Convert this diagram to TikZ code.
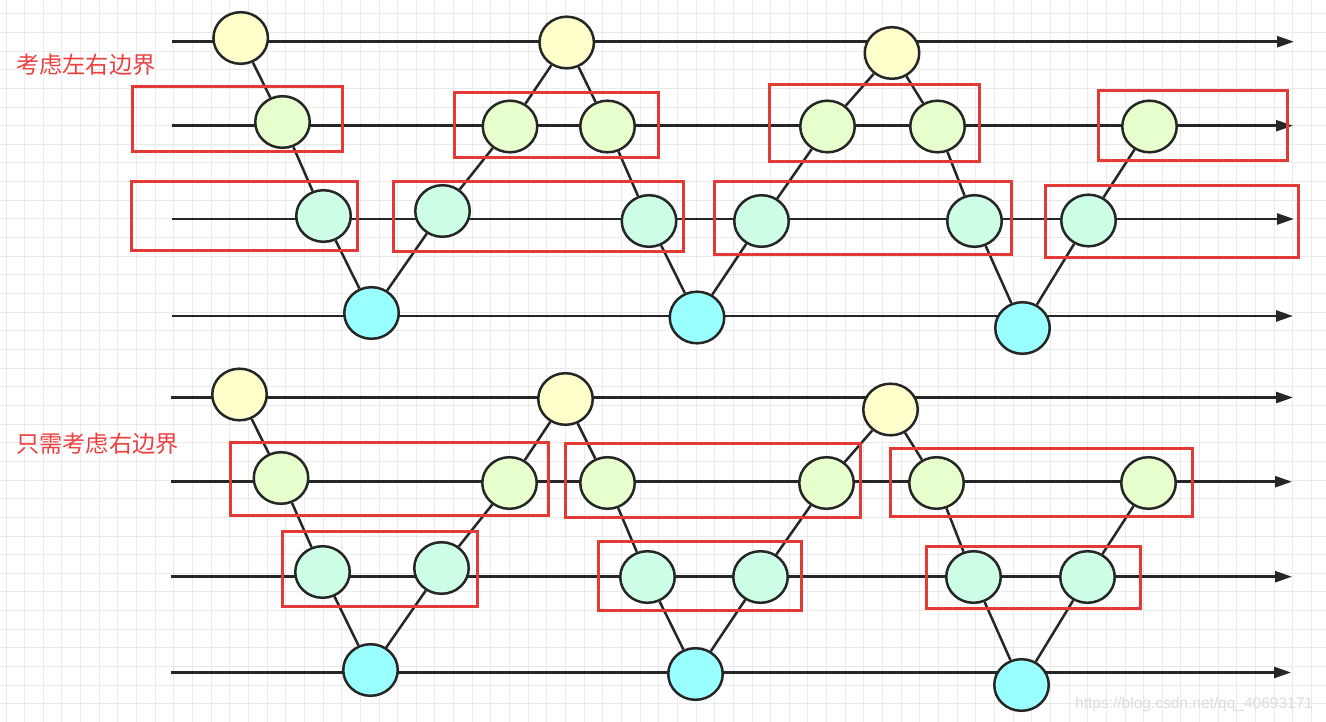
\documentclass[tikz,border=0pt]{standalone}
\usepackage{fontspec}
\setmainfont{Liberation Sans}
\newfontfamily\cjk{Noto Sans CJK SC}
\usetikzlibrary{arrows.meta,shapes.geometric}
\pgfdeclarelayer{bg}
\pgfsetlayers{bg,main}
\definecolor{ink}{RGB}{38,38,38}
\definecolor{boxred}{RGB}{229,57,53}
\definecolor{labred}{RGB}{236,64,64}
\definecolor{cY}{RGB}{255,255,204}
\definecolor{cG}{RGB}{230,255,204}
\definecolor{cM}{RGB}{204,255,230}
\definecolor{cC}{RGB}{153,255,255}
\definecolor{gridc}{RGB}{234,234,234}
\definecolor{wm}{RGB}{220,220,220}
\tikzset{
  dot/.style={ellipse, draw=ink, line width=2.5pt, minimum width=54.5pt, minimum height=51.6pt, inner sep=0pt},
  yel/.style={dot, fill=cY},
  grn/.style={dot, fill=cG},
  mnt/.style={dot, fill=cM},
  cyn/.style={dot, fill=cC},
  axisline/.style={draw=ink, line width=2.5pt, -{Triangle[length=17pt,width=11pt]}},
  link/.style={draw=ink, line width=2.5pt},
  hl/.style={draw=boxred, line width=3pt},
  gridline/.style={draw=gridc, line width=1pt},
  lab/.style={text=labred, font=\cjk\fontsize{23.2pt}{27pt}\selectfont, anchor=west, inner sep=0pt},
}
\begin{document}
\begin{tikzpicture}[x=1pt,y=-1pt]
\useasboundingbox (0,0) rectangle (1326,722);
\begin{pgfonlayer}{bg}
  \fill[white] (0,0) rectangle (1326,722);
  \foreach \i in {0,...,70} \draw[gridline] ({6+18.65*\i},0) -- ({6+18.65*\i},722);
  \foreach \j in {0,...,38} \draw[gridline] (0,{13.8+18.65*\j}) -- (1326,{13.8+18.65*\j});
\end{pgfonlayer}

% ---------- top diagram ----------
\node[yel] (Y1) at (240.7,38) {};
\node[yel] (Y2) at (566.7,42.5) {};
\node[yel] (Y3) at (892,53) {};
\node[grn] (G1) at (282.5,122) {};
\node[grn] (G2) at (510,126.5) {};
\node[grn] (G3) at (607.5,126.5) {};
\node[grn] (G4) at (827.5,126.5) {};
\node[grn] (G5) at (937.5,126.5) {};
\node[grn] (G6) at (1149.5,126.5) {};
\node[mnt] (M1) at (323.5,216) {};
\node[mnt] (M2) at (442.5,211) {};
\node[mnt] (M3) at (649,221) {};
\node[mnt] (M4) at (761.5,221) {};
\node[mnt] (M5) at (974.5,221) {};
\node[mnt] (M6) at (1088.5,220.5) {};
\node[cyn] (C1) at (371.5,313) {};
\node[cyn] (C2) at (697,317.5) {};
\node[cyn] (C3) at (1022.5,328) {};

\coordinate (T1s) at (172,41.7);  \coordinate (T1e) at (1294,41.7);
\coordinate (T2s) at (172,125.7); \coordinate (T2e) at (1293,125.7);
\coordinate (T3s) at (172,219);   \coordinate (T3e) at (1294,219);
\coordinate (T4s) at (172,316);   \coordinate (T4e) at (1293,316);

% ---------- bottom diagram ----------
\node[yel] (y1) at (239.5,394.5) {};
\node[yel] (y2) at (565.5,399) {};
\node[yel] (y3) at (890.5,409.5) {};
\node[grn] (g1) at (281,478) {};
\node[grn] (g2) at (509.5,483) {};
\node[grn] (g3) at (607.5,483) {};
\node[grn] (g4) at (826.5,483) {};
\node[grn] (g5) at (936.5,483) {};
\node[grn] (g6) at (1148.5,483) {};
\node[mnt] (m1) at (322.5,572) {};
\node[mnt] (m2) at (441.5,568) {};
\node[mnt] (m3) at (647.5,577) {};
\node[mnt] (m4) at (760.5,577) {};
\node[mnt] (m5) at (973.5,577) {};
\node[mnt] (m6) at (1087.5,577) {};
\node[cyn] (c1) at (370.5,670) {};
\node[cyn] (c2) at (695.5,674) {};
\node[cyn] (c3) at (1021.5,685) {};

\coordinate (B1s) at (171,397.5); \coordinate (B1e) at (1293,397.5);
\coordinate (B2s) at (171,481.7); \coordinate (B2e) at (1292,481.7);
\coordinate (B3s) at (171,576.7); \coordinate (B3e) at (1292,576.7);
\coordinate (B4s) at (171,672.5); \coordinate (B4e) at (1291,672.5);

\begin{pgfonlayer}{bg}
  \foreach \a in {T1,T2,T3,T4,B1,B2,B3,B4} \draw[axisline] (\a s) -- (\a e);
  \draw[link] (Y1) -- (G1) -- (M1) -- (C1) -- (M2) -- (G2) -- (Y2) -- (G3) -- (M3) -- (C2)
    -- (M4) -- (G4) -- (Y3) -- (G5) -- (M5) -- (C3) -- (M6) -- (G6);
  \draw[link] (y1) -- (g1) -- (m1) -- (c1) -- (m2) -- (g2) -- (y2) -- (g3) -- (m3) -- (c2)
    -- (m4) -- (g4) -- (y3) -- (g5) -- (m5) -- (c3) -- (m6) -- (g6);
\end{pgfonlayer}

% red boxes (top)
\draw[hl] (132,87) rectangle (342,152);
\draw[hl] (454,93) rectangle (658,158);
\draw[hl] (769,85) rectangle (979,162);
\draw[hl] (1098,91) rectangle (1287,161);
\draw[hl] (131,182) rectangle (357,251);
\draw[hl] (393,182) rectangle (683,252);
\draw[hl] (714,182) rectangle (1011,255);
\draw[hl] (1045,186) rectangle (1298,258);
% red boxes (bottom)
\draw[hl] (230,442) rectangle (548,515);
\draw[hl] (565,443) rectangle (860,517);
\draw[hl] (890,448) rectangle (1192,516);
\draw[hl] (282,531) rectangle (477,606);
\draw[hl] (598,541) rectangle (801,610);
\draw[hl] (926,546) rectangle (1140,608);

% labels
\node[lab] (lab1) at (16,65) {考虑左右边界};
\node[lab] (lab2) at (16,443.5) {只需考虑右边界};
\node[text=wm, font=\fontsize{15.5pt}{18pt}\selectfont, anchor=west, inner sep=0pt] (wmk) at (1075,704) {https://blog.csdn.net/qq\_40693171};
\end{tikzpicture}
\end{document}
